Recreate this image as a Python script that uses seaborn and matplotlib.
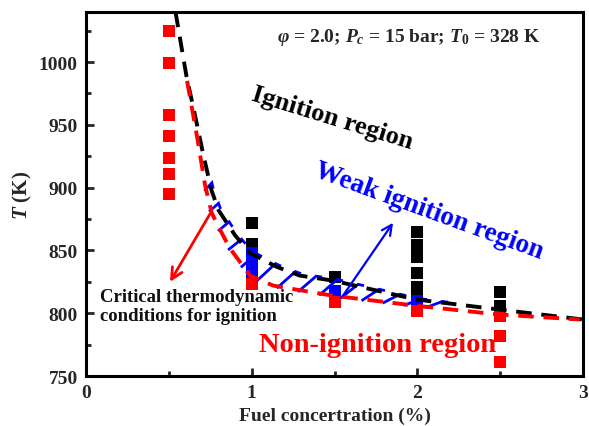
import numpy as np
import pandas as pd
import matplotlib
matplotlib.use("Agg")
import matplotlib.pyplot as plt
import seaborn as sns

# ---- measured ignition outcomes at each fuel concentration ----
ign_x = [1.0, 1.0, 1.5, 2.0, 2.0, 2.0, 2.0, 2.0, 2.0, 2.5, 2.5]
ign_T = [872, 855, 829, 865, 854, 845, 832, 821, 813, 817, 806]

weak_x = [1.0, 1.0, 1.0, 1.5, 2.0]
weak_T = [848, 840, 832, 818, 810]

non_x = [0.5, 0.5, 0.5, 0.5, 0.5, 0.5, 0.5, 1.0, 1.5, 2.0, 2.5, 2.5, 2.5]
non_T = [1025, 999, 958, 941, 924, 911, 895, 823, 809, 802, 798, 782, 761]

# ---- critical boundaries ----
upper_x = [0.54, 0.606, 0.667, 0.705, 0.757, 0.80, 0.90, 0.99, 1.15, 1.29, 1.49, 1.99, 2.49, 3.0]
upper_T = [1040, 989, 952, 928, 898, 882, 862, 848, 837, 830, 826, 811, 803, 795]

lower_x = [0.61, 0.675, 0.717, 0.758, 0.819, 0.867, 0.99, 1.13, 1.35, 1.49, 1.99, 2.49, 2.98]
lower_T = [985, 937, 903, 880, 864, 852, 830, 822, 817, 814, 806, 799, 795]

x_ticks = [0, 1, 2, 3]
y_ticks = [750, 800, 850, 900, 950, 1000]

sns.set_theme(style="ticks")
plt.rcParams["font.family"] = ["Liberation Serif", "DejaVu Serif"]
plt.rcParams["font.weight"] = "bold"
plt.rcParams["mathtext.fontset"] = "custom"
plt.rcParams["mathtext.rm"] = "Liberation Serif:bold"
plt.rcParams["mathtext.it"] = "Liberation Serif:italic:bold"
plt.rcParams["mathtext.bf"] = "Liberation Serif:bold"

fig = plt.figure(figsize=(5.89, 4.27), dpi=100)
ax = fig.add_axes([0.146, 0.117, 0.844, 0.853])
ax.set_xlim(0, 3)
ax.set_ylim(750, 1040)

ign = pd.DataFrame({"x": ign_x, "T": ign_T})
weak = pd.DataFrame({"x": weak_x, "T": weak_T})
non = pd.DataFrame({"x": non_x, "T": non_T})

msize = 78
sns.scatterplot(data=ign, x="x", y="T", marker="s", s=msize, color="black",
                linewidth=0, ax=ax, zorder=3)
sns.scatterplot(data=weak, x="x", y="T", marker="s", s=msize, color="#0000ff",
                linewidth=0, ax=ax, zorder=3)
sns.scatterplot(data=non, x="x", y="T", marker="s", s=msize, color="#ff0000",
                linewidth=0, ax=ax, zorder=3)


def trimmed_path(xs, ts, x0, x1):
    """Boundary curve between x0 and x1, in display pixels, with arc length."""
    xs = np.asarray(xs, float)
    ts = np.asarray(ts, float)
    keep = (xs > x0) & (xs < x1)
    px = np.concatenate([[x0], xs[keep], [x1]])
    pt = np.concatenate([[np.interp(x0, xs, ts)], ts[keep], [np.interp(x1, xs, ts)]])
    disp = ax.transData.transform(np.column_stack([px, pt]))
    seg = np.hypot(*np.diff(disp, axis=0).T)
    return disp, np.concatenate([[0], np.cumsum(seg)])


def point_at(disp, arc, s):
    s = np.clip(s, 0, arc[-1])
    return np.array([np.interp(s, arc, disp[:, 0]), np.interp(s, arc, disp[:, 1])])


# blue zig-zag hatching marking the weak-ignition band between the boundaries
up_d, up_s = trimmed_path(upper_x, upper_T, 0.735, 2.2)
lo_d, lo_s = trimmed_path(lower_x, lower_T, 0.722, 2.18)
step = 21.0
n_hatch = int(up_s[-1] // step)
inv = ax.transData.inverted()
for i in range(n_hatch):
    f = (i + 0.5) / n_hatch
    su = f * up_s[-1]
    sl = f * lo_s[-1] - 9
    u = point_at(up_d, up_s, su)
    lo = point_at(lo_d, lo_s, sl)
    d = (u - lo) / np.hypot(*(u - lo))
    u_ext = u + 2.5 * d
    lo_ext = lo - 2.5 * d
    cap_hi = point_at(up_d, up_s, su + 6) + 2.5 * d
    pts = inv.transform(np.vstack([lo_ext, u_ext, cap_hi]))
    ax.plot(pts[:, 0], pts[:, 1], color="#0000ff", lw=2.0,
            solid_capstyle="butt", solid_joinstyle="miter", zorder=4)

sns.lineplot(x=upper_x, y=upper_T, color="black", lw=2.8, ax=ax, sort=False,
             estimator=None, zorder=5)
sns.lineplot(x=lower_x, y=lower_T, color="#ff0000", lw=2.8, ax=ax, sort=False,
             estimator=None, zorder=5)
for ln in ax.lines[-2:]:
    ln.set_dashes((4, 2.5))

ax.set_xticks(x_ticks)
ax.set_xticklabels([str(v) for v in x_ticks])
ax.set_yticks(y_ticks)
ax.set_yticklabels([str(v) for v in y_ticks])
ax.set_xticks([0.5, 1.5, 2.5], minor=True)
ax.set_yticks([775, 825, 875, 925, 975, 1025], minor=True)
ax.tick_params(axis="both", which="major", direction="in", length=6, width=2,
               labelsize=14, pad=6)
ax.tick_params(axis="both", which="minor", direction="in", length=3.5, width=2)
ax.tick_params(top=False, right=False, which="both")
for lab in ax.get_xticklabels() + ax.get_yticklabels():
    lab.set_fontweight("bold")
for sp in ax.spines.values():
    sp.set_linewidth(2.2)
    sp.set_color("black")

ax.set_xlabel("Fuel concertration (%)", fontsize=14, fontweight="bold", labelpad=4)
ax.set_ylabel(r"$T$ (K)", fontsize=15, fontweight="bold", labelpad=3)

ax.text(1.95, 1020, r"$\varphi$ = 2.0; $P_c$ = 15 bar; $T_0$ = 328 K",
        fontsize=14, fontweight="bold", ha="center", va="center")
ax.text(1.485, 956, "Ignition region", fontsize=19, fontweight="bold",
        ha="center", va="center", rotation=-17, color="black")
ax.text(2.07, 882, "Weak ignition region", fontsize=19.5, fontweight="bold",
        ha="center", va="center", rotation=-20, color="#0000ff")
ax.text(1.762, 775, "Non-ignition region", fontsize=20.5, fontweight="bold",
        ha="center", va="center", color="#ff0000")
ax.text(0.084, 806, "Critical thermodynamic\nconditions for ignition",
        fontsize=13.5, fontweight="bold", ha="left", va="center",
        linespacing=1.15, color="#111111")

ax.annotate("", xy=(0.507, 825), xytext=(0.748, 879),
            arrowprops=dict(arrowstyle="->", color="#ff0000", lw=2,
                            mutation_scale=20, shrinkA=0, shrinkB=0), zorder=6)
ax.annotate("", xy=(1.853, 872), xytext=(1.551, 814),
            arrowprops=dict(arrowstyle="->", color="#0000ff", lw=1.6,
                            mutation_scale=18, shrinkA=0, shrinkB=0), zorder=6)

fig.savefig("out.png", dpi=100)
